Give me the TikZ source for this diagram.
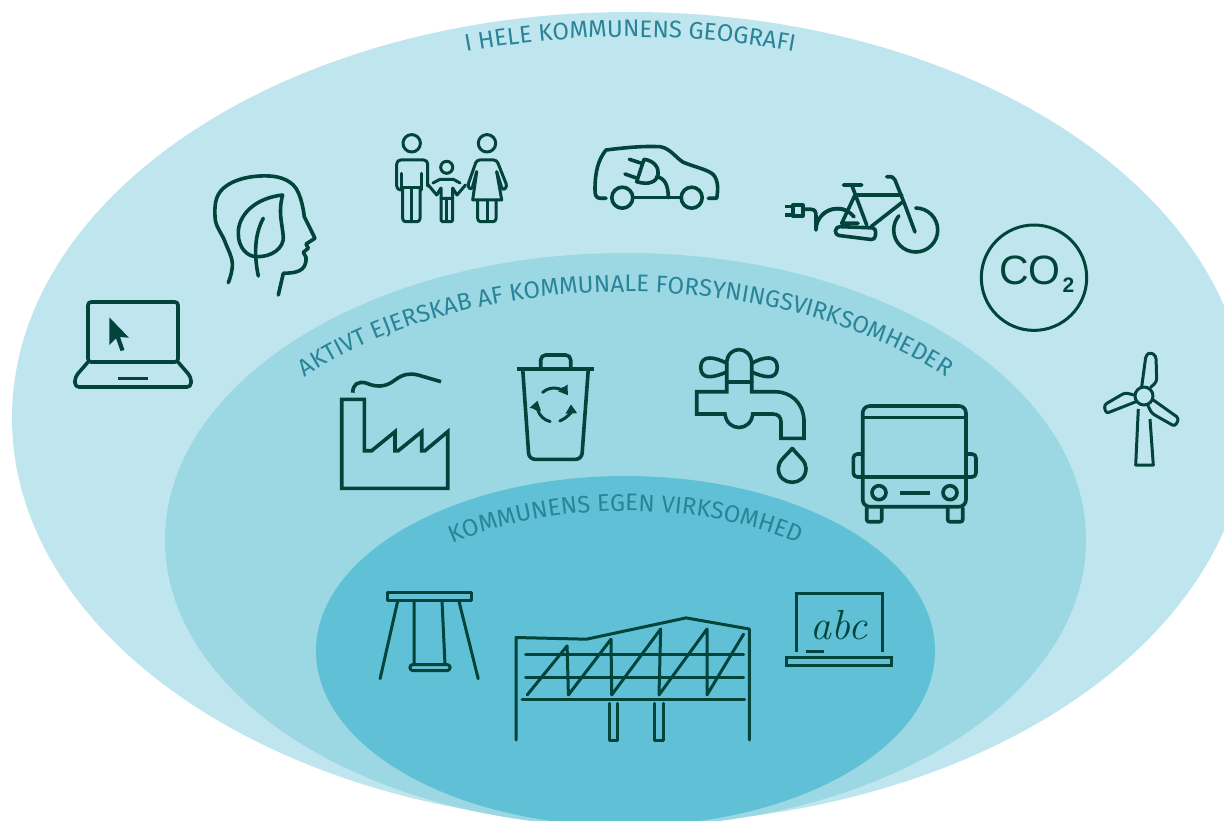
\documentclass[tikz,border=0pt]{standalone}
\usepackage{fontspec}
\setsansfont{Fira Sans}
\newfontfamily\cofont{Liberation Sans}
\usetikzlibrary{decorations.text,arrows.meta}
\definecolor{outercol}{HTML}{BFE6EE}
\definecolor{middlecol}{HTML}{9BD8E3}
\definecolor{innercol}{HTML}{60C1D6}
\definecolor{iconcol}{HTML}{02443C}
\definecolor{ringcol}{HTML}{2A8499}
\newcommand{\ringfont}{\sffamily\fontsize{24}{24}\selectfont\color{ringcol}}
\begin{document}
\begin{tikzpicture}
  [x=1pt, y=-1pt,
   icon/.style={draw=iconcol, line width=3.6pt, line join=round, line cap=round, fill=none},
   thinicon/.style={icon, line width=3pt},
   soft/.style={smooth, tension=0.7},
   ringtext/.style={decorate, decoration={text along path, text align=center, text={|\ringfont|#1}}},
   turn/.style={thinicon, -{Triangle[length=9pt,width=11pt]}}]
  \useasboundingbox (0,0) rectangle (1224,821);
  \begin{scope}
    \clip (0,0) rectangle (1224,821);
    \fill[outercol] (630,418) ellipse [x radius=618, y radius=406];
    \fill[middlecol] (625.5,540) ellipse [x radius=460.5, y radius=287];
    \fill[innercol] (625.5,651) ellipse [x radius=309.5, y radius=175];
  \end{scope}
  \path[ringtext={I HELE KOMMUNENS GEOGRAFI}]
    (630,418) ++(-120:593 and 381) arc [start angle=-120, end angle=-60, x radius=593, y radius=381];
  \path[ringtext={AKTIVT EJERSKAB AF KOMMUNALE FORSYNINGSVIRKSOMHEDER}]
    (625.5,540) ++(-155:425 and 248) arc [start angle=-155, end angle=-25, x radius=425, y radius=248];
  \path[ringtext={KOMMUNENS EGEN VIRKSOMHED}]
    (625.5,651) ++(-140:270 and 140) arc [start angle=-140, end angle=-40, x radius=270, y radius=140];

  % laptop
  \draw[icon, rounded corners=3pt] (88,362) -- (88,302) -- (178,302) -- (178,362) -- cycle;
  \draw[icon, rounded corners=4pt] (88,362) -- (75,377) -- (75,387) -- (191,387) -- (191,377) -- (178,362);
  \draw[icon, line cap=butt] (118,378.5) -- (148,378.5);
  \fill[iconcol] (109.3,317.3) -- (129,337.7) -- (120,337) -- (124.5,350) -- (120.5,351) -- (116,338.3) -- (109.3,345) -- cycle;

  % head with leaf
  \draw[icon] plot[soft] coordinates {(228.3,282.7) (232.3,263.3) (225,241.7) (215,216.7) (223.3,188.3) (260,176) (293.3,185) (304.3,216.7)}
    -- (315,238.3) -- (306,244) -- (308.3,248.3) -- (303.3,252.3) -- (306,257.3);
  \draw[icon] (306,257.3) .. controls (307,272) and (295,273) .. (283.3,273.3) -- (278.3,295);
  \draw[icon] (282.7,195) .. controls (255,198) and (238,215) .. (238.3,233.3)
    .. controls (238,248) and (248,257) .. (256.7,256.7)
    .. controls (272,257) and (284,248) .. (283.3,236.7)
    .. controls (282,222) and (278,212) .. (282.7,195);
  \draw[icon] (263.3,218.3) .. controls (256,232) and (253,250) .. (258.3,276);

  % family
  \draw[thinicon] (411.7,143.3) circle [radius=8.7];
  \draw[thinicon, rounded corners=4pt] (401.7,190) -- (396.7,190) -- (396.7,160) -- (427.7,160) -- (427.7,186);
  \draw[thinicon] (401.7,173.3) -- (401.7,190) (421,173.3) -- (421,190);
  \draw[thinicon] (402.7,188) -- (420,188);
  \draw[thinicon, rounded corners=3pt] (402.7,188) -- (402.7,221.7) -- (420,221.7) -- (420,188);
  \draw[thinicon] (411.7,188) -- (411.7,221.7);
  \draw[thinicon] (446.7,167.3) circle [radius=6];
  \draw[thinicon] (428.3,185) -- (436.7,195) -- (441,188) -- (441,198.3) -- (452.7,198.3) -- (452.7,188) -- (457,195) -- (465.5,185);
  \draw[thinicon] (433,183) -- (440,179.3) -- (453.3,179.3) -- (460,183);
  \draw[thinicon, rounded corners=2pt] (441,198.3) -- (441,221.7) -- (452.7,221.7) -- (452.7,198.3);
  \draw[thinicon] (446.7,198.3) -- (446.7,221.7);
  \draw[thinicon] (487,143.3) circle [radius=8.7];
  \draw[thinicon] (476.7,171.7) -- (472.7,200) -- (501.7,200) -- (496.7,171.7);
  \draw[thinicon, rounded corners=3pt] (476.7,171.7) -- (471.7,190) -- (467.3,186.7) -- (476.7,160) -- (496.7,160) -- (507.3,186.7) -- (502.7,190.7) -- (496.7,171.7);
  \draw[thinicon, rounded corners=3pt] (477.7,200) -- (477.7,221.7) -- (496,221.7) -- (496,200);
  \draw[thinicon] (487,200) -- (487,221.7);

  % electric car
  \draw[icon] (606,198.3) -- (600,198.3) .. controls (596,198) and (595,195) .. (595,190)
    .. controls (595,172) and (598,160) .. (606,150) .. controls (630,147) and (645,146) .. (660,146.7)
    .. controls (670,148) and (676,158) .. (683.3,162.3) .. controls (695,167) and (705,169) .. (711.7,173.3)
    .. controls (717,177) and (719,186) .. (716.7,198.3) -- (708.3,198.3);
  \draw[icon] (622.3,197.7) circle [radius=10.5] (691.7,197.7) circle [radius=10.5];
  \draw[icon] (633,197.7) -- (681,197.7);
  \draw[icon] (644,159.3) .. controls (665,162) and (663,190) .. (636.7,181.7) -- cycle;
  \draw[icon] (629.3,159.3) -- (641.7,163.3) (625,174) -- (637.3,178.3);
  \draw[icon] (656.7,176.7) .. controls (664,178) and (668.3,184) .. (668.3,197.7);

  % electric bike
  \draw[icon, line cap=butt] (785,206.7) -- (793,206.7) (785,215) -- (793,215);
  \draw[icon] (792.7,205) rectangle (802.7,216);
  \draw[icon] (802.7,209.3) -- (811,209.3) .. controls (815,209.3) and (816,212) .. (816,216)
    -- (816,230) arc [start angle=180, end angle=38, x radius=21.3, y radius=-21.3];
  \draw[icon] (822,215) arc [start angle=-135, end angle=-65, radius=22];
  \draw[icon] (915.7,208) arc [start angle=-90, end angle=220, radius=22];
  \draw[icon] (843.3,185) -- (861.7,185) (851.7,185) -- (866.7,225) (855,195) -- (901.7,195);
  \draw[icon] (855,195) -- (841.7,223.3) -- (858,223.3);
  \draw[icon, rounded corners=4pt] (836,226.5) -- (876,228) -- (875,240) -- (835,235) -- cycle;
  \draw[icon] (871,226.7) -- (903,201.7);
  \draw[icon] (886.7,176.7) .. controls (892,176.5) and (894,177) .. (895,180) -- (905,205) -- (915,232);

  % CO2
  \draw[thinicon] (1034,277.7) circle [radius=52.7];
  \node[text=iconcol, inner sep=0pt, font=\cofont\fontsize{41}{41}\selectfont] (cotext) at (1030,270.5) {CO};
  \node[text=iconcol, inner sep=0pt, font=\cofont\bfseries\fontsize{21}{21}\selectfont] (cosub) at (1068.5,285.5) {2};

  % wind turbine
  \draw[thinicon] (1144,396) circle [radius=9];
  \draw[thinicon, rounded corners=3pt] (1141.7,386.7) -- (1146,355) -- (1150.7,352.3) -- (1156,356) -- (1156.7,381.7) -- (1150.7,387.3);
  \draw[thinicon, rounded corners=3pt] (1134,395) -- (1125,392.7) -- (1104,405) -- (1106,413.5) -- (1136,401.7);
  \draw[thinicon, rounded corners=3pt] (1153.3,400) -- (1179,418.3) -- (1175,426.5) -- (1151.7,413.3) -- (1147.7,405);
  \draw[thinicon, line cap=butt] (1138.3,409) -- (1135.7,465) -- (1153.3,465) -- (1150,419);

  % factory
  \draw[icon, line cap=butt, line join=miter] (341.7,399.3) -- (364.3,399.3) -- (364.3,450.7) -- (371.7,450.7) -- (395,431.7) -- (395,450.7) -- (398.3,450.7)
    -- (421.7,431.7) -- (421.7,450.7) -- (425,450.7) -- (447.7,431.7) -- (447.7,488.3) -- (341.7,488.3) -- cycle;
  \draw[icon, line cap=butt] (352.7,392.7) .. controls (353,384) and (358,381) .. (366,383) .. controls (375,387) and (385,388) .. (395,380)
    .. controls (403,374) and (410,373) .. (418,375) -- (441,381.7);

  % bin
  \draw[icon, line cap=butt] (516.7,369) -- (594,369);
  \draw[icon, rounded corners=5pt, line cap=butt] (540.7,368) -- (540.7,355) -- (570.7,355) -- (570.7,368);
  \draw[icon, rounded corners=6pt, line cap=butt] (522.7,369) -- (529,459.3) -- (581.7,459.3) -- (588.3,369);
  \draw[turn] (554,405) ++(-132:17) arc [start angle=-132, end angle=-35, radius=17];
  \draw[turn] (554,405) ++(70:17) arc [start angle=70, end angle=-2, radius=17] ;
  \draw[turn] (554,405) ++(103:17) arc [start angle=103, end angle=195, radius=17];

  % tap
  \draw[icon] (726.7,381.7) -- (751.7,381.7);
  \draw[icon] (726.7,381.7) -- (726.7,363.3) .. controls (727,345) and (751,345) .. (751.7,363.3) -- (751.7,381.7);
  \draw[icon] (726.7,363.3) .. controls (715,357) and (701,354) .. (700.7,367.5) .. controls (701,381) and (715,377) .. (726.7,372);
  \draw[icon] (751.7,363.3) .. controls (763,357) and (777,354) .. (777.3,367.5) .. controls (777,381) and (763,377) .. (751.7,372);
  \draw[icon, line cap=butt, line join=miter] (726.7,381.7) -- (726.7,391.7) -- (696.7,391.7) -- (696.7,414) -- (725,414)
    .. controls (727,432) and (751,432) .. (752.7,414) -- (773,414) .. controls (778,414) and (781,417) .. (781,422)
    -- (781,438.3) -- (804,438.3) -- (804,420) .. controls (803,402) and (790,391.7) .. (775,391.7) -- (751.7,391.7) -- (751.7,381.7);
  \draw[icon] (792.3,448.3) .. controls (785,457) and (778.3,461) .. (778.3,468.3)
    .. controls (778.3,487) and (806,487) .. (806,468.3) .. controls (806,461) and (799,457) .. (792.3,448.3);

  % bus
  \draw[icon, rounded corners=7pt] (862.7,406) rectangle (966,506.7);
  \draw[icon, line cap=butt] (862.7,417.3) -- (966,417.3) (862.7,476.7) -- (966,476.7);
  \draw[icon, rounded corners=4pt] (862.7,454) -- (853.3,454) -- (853.3,477) -- (862.7,477);
  \draw[icon, rounded corners=4pt] (966,454) -- (976,454) -- (976,477) -- (966,477);
  \draw[icon] (879,492.7) circle [radius=7] (950,492.7) circle [radius=7];
  \draw[icon, line cap=butt] (900,492.7) -- (930,492.7);
  \draw[icon, rounded corners=2pt] (866.7,508) -- (866.7,521.7) -- (881.7,521.7) -- (881.7,508);
  \draw[icon, rounded corners=2pt] (947.7,508) -- (947.7,521.7) -- (962.7,521.7) -- (962.7,508);

  % swing
  \draw[thinicon, line cap=butt] (387.6,592.8) rectangle (471.4,600.3);
  \draw[thinicon] (397.7,601) -- (380.1,678.7) (458.9,601) -- (478.2,678.7);
  \draw[thinicon] (414,601) -- (414,664.5) (442,601) -- (445,664.5);
  \draw[thinicon, rounded corners=3pt] (409.9,664.5) rectangle (450.1,670.6);

  % building
  \draw[thinicon] (516,740) -- (516,637.5) -- (586.4,639.2) -- (686.1,617.9) -- (749.3,629) -- (749.3,740);
  \draw[thinicon] (525.5,654.4) -- (743.6,654.4) (525.5,677) -- (743.6,677) (522.1,699) -- (744.6,699);
  \draw[thinicon] (527.2,694.9) -- (567.1,645.9) -- (568.4,694.9) -- (611,639.2) -- (611.7,694.9) -- (660.7,629) -- (659,694.9) -- (707,629) -- (707,694.9) -- (743.6,634.1);
  \draw[thinicon] (609,703.4) -- (609,740) -- (617.8,740) -- (617.8,703.4);
  \draw[thinicon] (654.7,703.4) -- (654.7,740) -- (663.4,740) -- (663.4,703.4);

  % chalkboard
  \draw[thinicon, line cap=butt, line join=miter] (796,651.7) -- (796,593.5) -- (882.8,593.5) -- (882.8,651.7);
  \draw[thinicon, line join=miter] (786.5,657.1) rectangle (891.6,665.9);
  \draw[thinicon, line cap=butt] (806.1,651.7) -- (824,651.7);
  \node[text=iconcol, inner sep=0pt, font=\rmfamily\itshape\fontsize{42}{42}\selectfont] (abctext) at (839,625) {abc};
\end{tikzpicture}
\end{document}
